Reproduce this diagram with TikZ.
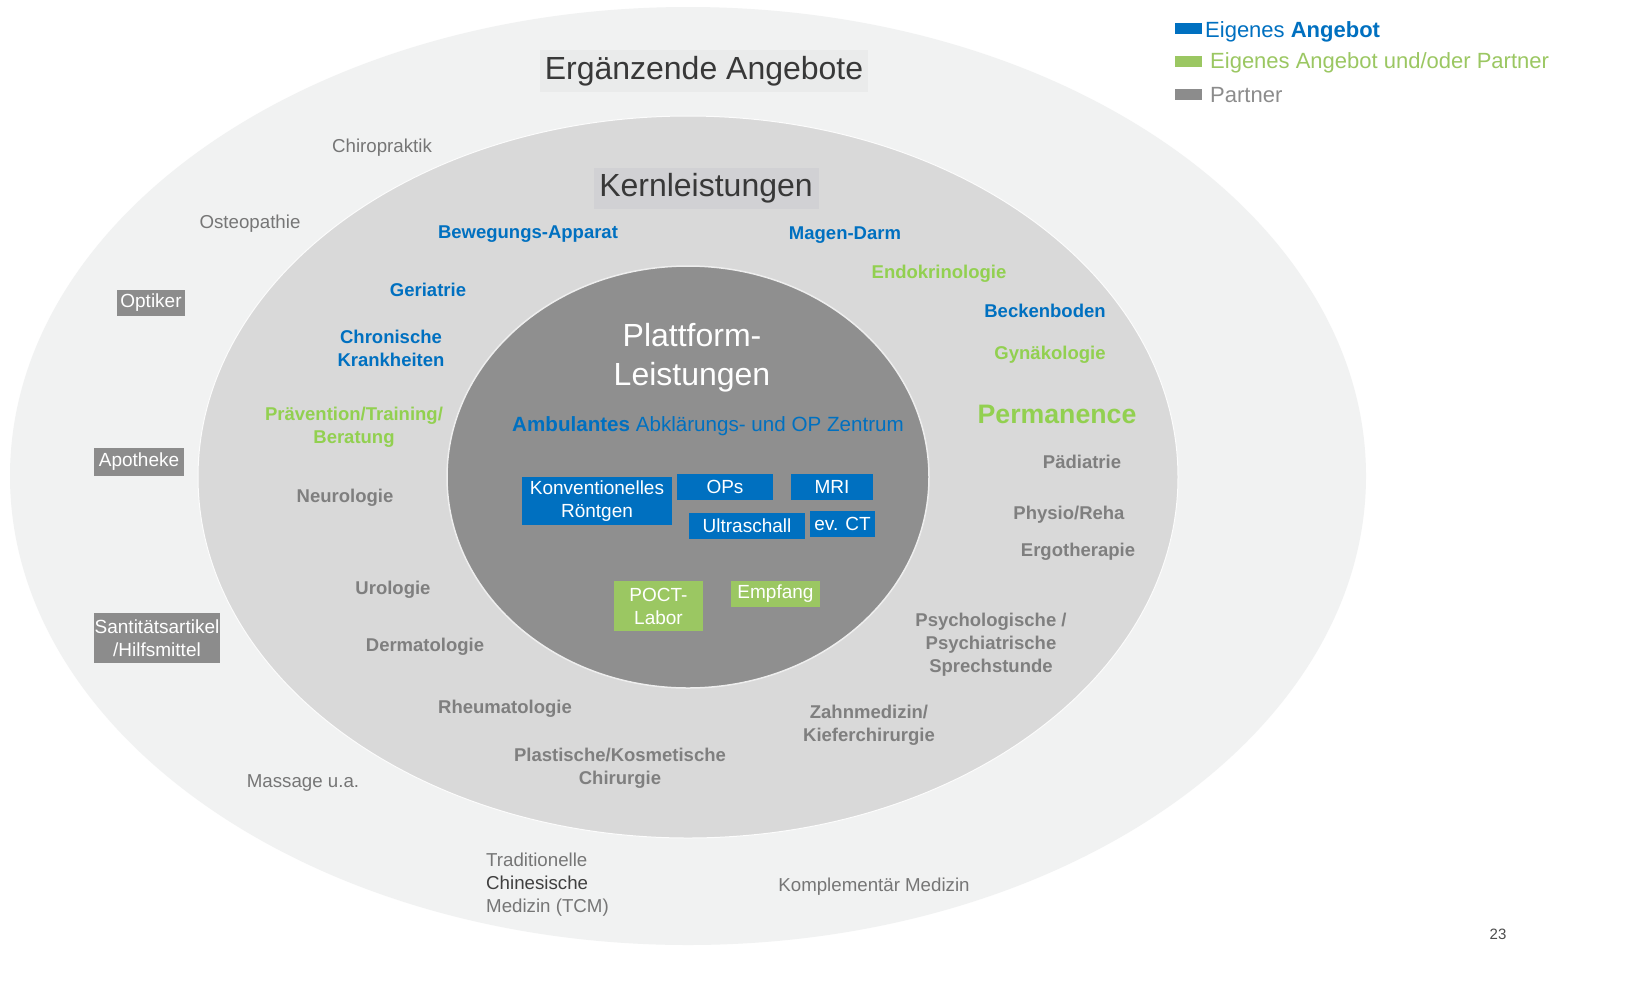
\documentclass[tikz,border=0pt]{standalone}
\usepackage{fontspec}
\setmainfont{Liberation Sans}
\definecolor{outerbg}{HTML}{F1F2F2}
\definecolor{midbg}{HTML}{D9D9D9}
\definecolor{innerbg}{HTML}{8F8F8F}
\definecolor{cblue}{HTML}{0070C0}
\definecolor{cgreen}{HTML}{9BC762}
\definecolor{cgreenT}{HTML}{92D050}
\definecolor{cgray}{HTML}{7F7F7F}
\definecolor{cgrayT}{HTML}{767676}
\definecolor{cbox}{HTML}{8C8C8C}
\definecolor{cdark}{HTML}{404040}
\definecolor{ergbox}{HTML}{EAEBEB}
\definecolor{kernbox}{HTML}{D1D1D4}
\tikzset{
  lbl/.style={align=center, inner sep=0pt},
  corelbl/.style={lbl, font=\fontsize{18.5}{23}\selectfont\bfseries},
  bluelbl/.style={corelbl, text=cblue},
  greenlbl/.style={corelbl, text=cgreenT},
  graylbl/.style={corelbl, text=cgray},
  outlbl/.style={lbl, text=cgrayT, font=\fontsize{18.7}{23}\selectfont},
  graybox/.style={lbl, fill=cbox, text=white, font=\fontsize{19}{23}\selectfont},
  bluebox/.style={lbl, fill=cblue, text=white, font=\fontsize{19}{23}\selectfont},
  greenbox/.style={lbl, fill=cgreen, text=white, font=\fontsize{19}{23}\selectfont},
  legbox/.style={minimum width=27pt, minimum height=11pt, inner sep=0pt},
}
\begin{document}
\begin{tikzpicture}[x=1pt,y=-1pt]
\useasboundingbox[fill=white] (0,0) rectangle (1641,989);
% ellipses
\fill[outerbg] (688,476) ellipse [x radius=678, y radius=469];
\fill[midbg, draw=white!92!midbg, line width=1pt] (688,477) ellipse [x radius=490, y radius=361];
\fill[innerbg, draw=white!85!innerbg, line width=1.5pt] (688,477) ellipse [x radius=241, y radius=211];

% titles
\node[lbl, fill=ergbox, minimum width=328pt, minimum height=42pt, text=black!78, font=\fontsize{32}{38}\selectfont] (erg) at (704,71) {Ergänzende Angebote};
\node[lbl, fill=kernbox, minimum width=225pt, minimum height=41pt, text=black!78, font=\fontsize{32}{38}\selectfont] (kern) at (706,188) {Kernleistungen};

% outer ring labels
\node[outlbl] (chiro) at (382,148) {Chiropraktik};
\node[outlbl] (osteo) at (250,224) {Osteopathie};
\node[graybox, minimum width=68pt, minimum height=26pt] (optiker) at (151,303) {Optiker};
\node[graybox, minimum width=90pt, minimum height=28pt] (apo) at (139,462) {Apotheke};
\node[graybox, minimum width=126pt, minimum height=50pt] (sani) at (157,638) {Santitätsartikel\\/Hilfsmittel};
\node[outlbl] (massage) at (303,783) {Massage u.a.};
\node[outlbl, align=left, anchor=west] (tcm) at (486,885) {Traditionelle\\\textcolor{cdark}{Chinesische}\\Medizin (TCM)};
\node[outlbl] (kompl) at (874,887) {Komplementär Medizin};

% middle ring labels
\node[bluelbl] (bew) at (528,234) {Bewegungs-Apparat};
\node[bluelbl] (magen) at (845,235) {Magen-Darm};
\node[greenlbl] (endo) at (939,274) {Endokrinologie};
\node[bluelbl] (geri) at (428,290) {Geriatrie};
\node[bluelbl] (becken) at (1045,311) {Beckenboden};
\node[bluelbl] (chron) at (391,348) {Chronische\\Krankheiten};
\node[greenlbl] (gyn) at (1050,355) {Gynäkologie};
\node[greenlbl] (praev) at (354,427) {Prävention/Training/\\Beratung};
\node[lbl, text=cgreenT, font=\fontsize{26.7}{30}\selectfont\bfseries] (perm) at (1057,414) {Permanence};
\node[graylbl] (paed) at (1082,462) {Pädiatrie};
\node[graylbl] (neuro) at (345,498) {Neurologie};
\node[graylbl] (physio) at (1069,515) {Physio/Reha};
\node[graylbl] (ergo) at (1078,552) {Ergotherapie};
\node[graylbl] (uro) at (393,590) {Urologie};
\node[graylbl] (derma) at (425,647) {Dermatologie};
\node[graylbl] (psych) at (991,645) {Psychologische /\\Psychiatrische\\Sprechstunde};
\node[graylbl] (rheuma) at (505,709) {Rheumatologie};
\node[graylbl] (zahn) at (869,725) {Zahnmedizin/\\Kieferchirurgie};
\node[graylbl] (plast) at (620,768) {Plastische/Kosmetische\\Chirurgie};

% inner
\node[lbl, text=white, font=\fontsize{32}{39}\selectfont] (platt) at (692,358) {Plattform-\\Leistungen};
\node[lbl, text=cblue, font=\fontsize{20.6}{25}\selectfont] (amb) at (708,426) {\textbf{Ambulantes} Abklärungs- und OP Zentrum};
\node[bluebox, minimum width=150pt, minimum height=48pt] (roent) at (597,501) {Konventionelles\\Röntgen};
\node[bluebox, minimum width=96pt, minimum height=26pt] (ops) at (725,487) {OPs};
\node[bluebox, minimum width=82pt, minimum height=26pt] (mri) at (832,487) {MRI};
\node[bluebox, minimum width=116pt, minimum height=26pt] (ultra) at (747,526) {Ultraschall};
\node[bluebox, minimum width=65pt, minimum height=26pt] (ct) at (842.5,524) {ev. CT};
\node[greenbox, minimum width=89pt, minimum height=50pt] (poct) at (658.5,606) {POCT-\\Labor};
\node[greenbox, minimum width=89pt, minimum height=26pt] (empf) at (775.5,594) {Empfang};

% legend
\node[legbox, fill=cblue] (lb) at (1188.5,28.5) {};
\node[lbl, anchor=west, text=cblue, font=\fontsize{22}{26}\selectfont] (lbt) at (1205,32) {Eigenes \textbf{Angebot}};
\node[legbox, fill=cgreen] (lg) at (1188.5,61.5) {};
\node[lbl, anchor=west, text=cgreen, font=\fontsize{22}{26}\selectfont] (lgt) at (1210,63) {Eigenes Angebot und/oder Partner};
\node[legbox, fill=cbox] (lp) at (1188.5,94.5) {};
\node[lbl, anchor=west, text=cbox, font=\fontsize{22}{26}\selectfont] (lpt) at (1210,95) {Partner};

\node[lbl, text=black!70, font=\fontsize{15}{18}\selectfont] (page) at (1498,934) {23};
\end{tikzpicture}
\end{document}
